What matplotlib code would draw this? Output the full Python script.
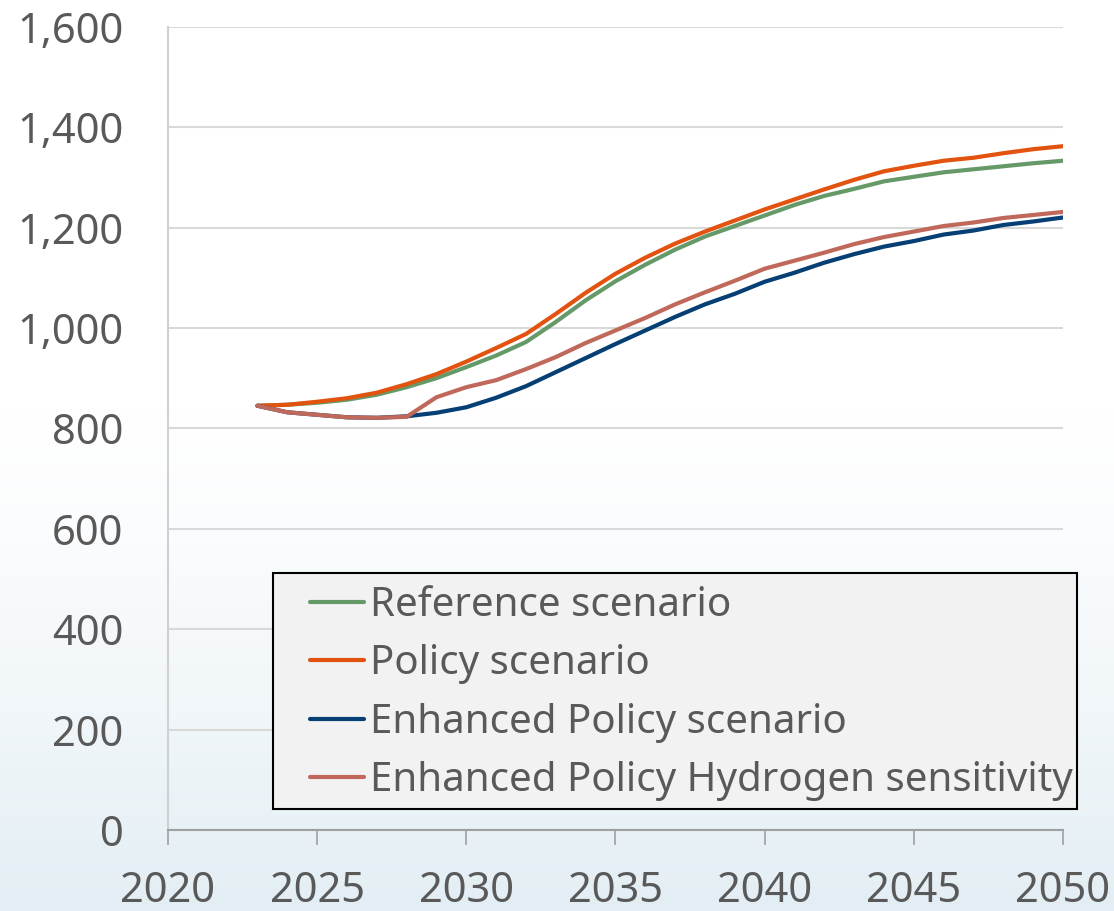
import numpy as np
import matplotlib.pyplot as plt
from matplotlib.colors import to_rgb
from matplotlib.patches import Rectangle

plt.rcParams['font.family'] = ['Noto Sans', 'DejaVu Sans']

years = list(range(2023, 2051))

reference = [845, 847, 851, 857, 867, 882, 900, 922, 945, 972, 1012, 1055, 1093, 1126,
             1156, 1182, 1203, 1224, 1245, 1263, 1277, 1292, 1301, 1310, 1316, 1322, 1328, 1333]
policy = [845, 847, 853, 860, 871, 888, 908, 933, 960, 988, 1028, 1070, 1108, 1140,
          1168, 1192, 1214, 1236, 1256, 1276, 1295, 1312, 1323, 1333, 1339, 1348, 1356, 1362]
enhanced = [845, 832, 827, 822, 821, 824, 831, 842, 861, 884, 912, 940, 968, 995,
            1022, 1047, 1068, 1092, 1110, 1130, 1147, 1162, 1173, 1186, 1194, 1205, 1212, 1220]
hydrogen = [845, 832, 827, 822, 821, 823, 862, 882, 896, 918, 942, 970, 995, 1020,
            1047, 1071, 1094, 1118, 1134, 1150, 1167, 1181, 1192, 1203, 1210, 1219, 1225, 1231]

labels = ['Reference scenario', 'Policy scenario', 'Enhanced Policy scenario',
          'Enhanced Policy Hydrogen sensitivity']
colors = ['#659a68', '#e2530f', '#053f73', '#c0695b']

text_col = '#595959'

fig = plt.figure(figsize=(11.14, 9.11), dpi=100)

# background: white at the top fading to a pale blue at the bottom
bg = fig.add_axes([0, 0, 1, 1], zorder=-10)
top = np.array(to_rgb('#ffffff'))
bot = np.array(to_rgb('#e3eef4'))
t = np.linspace(0, 1, 400)
w = np.clip((t - 0.45) / 0.55, 0, 1) ** 1.3
grad = top[None, :] * (1 - w[:, None]) + bot[None, :] * w[:, None]
bg.imshow(grad[:, None, :], aspect='auto', extent=[0, 1, 0, 1])
bg.axis('off')

ax = fig.add_axes([0.1508, 0.0889, 0.8034, 0.8818])
ax.patch.set_alpha(0)

series = [reference, policy, enhanced, hydrogen]
for s, c, lab in zip(series, colors, labels):
    ax.plot(years, s, color=c, lw=3, label=lab, solid_capstyle='round')

ax.set_xlim(2020, 2050)
ax.set_ylim(0, 1600)
ax.set_xticks(range(2020, 2051, 5))
ax.set_yticks(range(0, 1601, 200))
ax.set_yticklabels([f'{v:,}' for v in range(0, 1601, 200)])
ax.grid(axis='y', color='#d9d9d9', lw=1.5)
ax.set_axisbelow(True)

for sp in ['top', 'right']:
    ax.spines[sp].set_visible(False)
ax.spines['left'].set_color('#d0d0d0')
ax.spines['left'].set_linewidth(1.5)
ax.spines['bottom'].set_color('#a0a0a0')
ax.spines['bottom'].set_linewidth(1.5)

ax.tick_params(axis='x', direction='out', length=11, width=1.2, color='#a0a0a0',
               labelsize=30, labelcolor=text_col, pad=18)
ax.tick_params(axis='y', length=0, labelsize=30, labelcolor=text_col, pad=32)

# legend frame drawn by hand so the padding can differ per side
frame = Rectangle((0.245, 0.112), 0.722, 0.259, transform=fig.transFigure,
                  facecolor='#f2f2f2', edgecolor='black', lw=1.5, zorder=5)
fig.patches.append(frame)
leg = fig.legend(loc='upper left', bbox_to_anchor=(0.278, 0.357), fontsize=29,
                 frameon=False, handlelength=1.35, handletextpad=0.15,
                 labelspacing=0.46, borderpad=0, borderaxespad=0)
leg.set_zorder(6)
for txt in leg.get_texts():
    txt.set_color(text_col)

fig.savefig('out.png', dpi=100)
